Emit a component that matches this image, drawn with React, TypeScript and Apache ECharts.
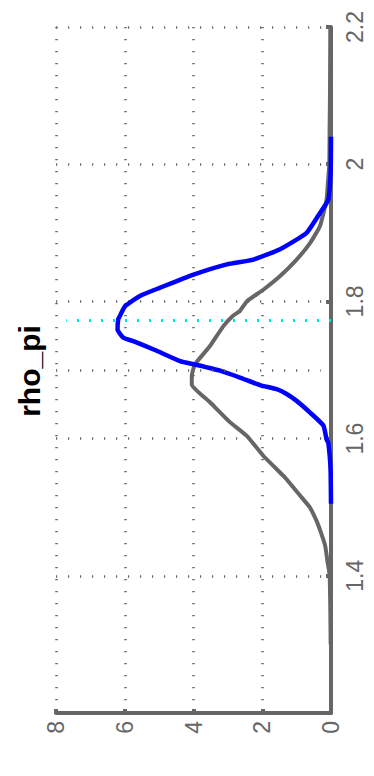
import React, { useEffect, useRef } from "react";
import * as echarts from "echarts";

// Parameter values (vertical axis) and densities (horizontal axis)
const titleText = "rho_pi";

const postParam = [1.505, 1.55, 1.57, 1.594, 1.599, 1.619, 1.638, 1.655, 1.665, 1.672, 1.678, 1.689, 1.699, 1.708, 1.713, 1.728, 1.742, 1.747, 1.759, 1.774, 1.779, 1.793, 1.808, 1.82, 1.839, 1.854, 1.861, 1.876, 1.9, 1.929, 1.948, 1.99, 2.04];
const postDensity = [0.0, 0.01, 0.03, 0.08, 0.13, 0.22, 0.61, 1.0, 1.29, 1.58, 2.07, 2.65, 3.23, 3.96, 4.39, 5.07, 5.75, 6.04, 6.21, 6.19, 6.14, 5.99, 5.56, 4.97, 4.0, 3.03, 2.26, 1.48, 0.71, 0.32, 0.08, 0.01, 0.0];

const priorParam = [1.3, 1.35, 1.401, 1.42, 1.444, 1.464, 1.48, 1.5, 1.517, 1.541, 1.546, 1.575, 1.604, 1.624, 1.653, 1.679, 1.691, 1.708, 1.735, 1.764, 1.779, 1.786, 1.8, 1.817, 1.837, 1.861, 1.885, 1.91, 1.948, 1.973, 2.0, 2.05, 2.1, 2.2];
const priorDensity = [0.01, 0.02, 0.04, 0.1, 0.17, 0.3, 0.42, 0.62, 0.9, 1.3, 1.39, 1.97, 2.45, 2.94, 3.52, 4.05, 4.05, 3.96, 3.52, 3.13, 2.85, 2.65, 2.45, 1.97, 1.48, 1.0, 0.61, 0.32, 0.13, 0.09, 0.05, 0.04, 0.03, 0.02];

const modeParam = 1.772;
const modeDensityRange = [0, 7.7];
const extraGridParam = 1.7;

const densityTicks = { min: 0, max: 8, interval: 2 };
const paramTicks = { min: 1.2, max: 2.2, interval: 0.2 };

export default function App() {
  const ref = useRef<HTMLDivElement>(null);
  useEffect(() => {
    if (!ref.current) return;
    const chart = echarts.init(ref.current, null, { renderer: "svg" });
    const axisColor = "#666666";
    const gridStyle = { color: "#666666", width: 2.5, type: [1.2, 10.8] as number[] };
    const font = "'Liberation Sans', Arial, Helvetica, sans-serif";
    chart.setOption({
      animation: false,
      backgroundColor: "#ffffff",
      grid: { left: 56, right: 43, top: 27, bottom: 63, containLabel: false },
      xAxis: {
        type: "value",
        min: densityTicks.min,
        max: densityTicks.max,
        interval: densityTicks.interval,
        inverse: true,
        position: "bottom",
        axisLine: { show: true, lineStyle: { color: axisColor, width: 4 } },
        axisTick: { show: true, inside: true, length: 4, lineStyle: { color: axisColor, width: 4 } },
        axisLabel: { rotate: 90, margin: 8, color: axisColor, fontSize: 23, fontFamily: font },
        splitLine: { show: true, lineStyle: gridStyle },
      },
      yAxis: {
        type: "value",
        min: paramTicks.min,
        max: paramTicks.max,
        interval: paramTicks.interval,
        position: "right",
        axisLine: { show: true, onZero: false, lineStyle: { color: axisColor, width: 4 } },
        axisTick: { show: true, inside: true, length: 5, lineStyle: { color: axisColor, width: 4 } },
        axisLabel: { rotate: 90, margin: 12, color: axisColor, fontSize: 23, fontFamily: font, showMinLabel: false },
        splitLine: { show: true, lineStyle: gridStyle },
      },
      graphic: [
        {
          type: "text",
          x: 29,
          y: 371,
          rotation: Math.PI / 2,
          style: {
            text: titleText,
            fill: "#000000",
            font: `bold 30px ${font}`,
            align: "center",
            verticalAlign: "middle",
          },
        },
      ],
      series: [
        {
          type: "line",
          name: "grid",
          data: [],
          silent: true,
          markLine: {
            silent: true,
            symbol: "none",
            label: { show: false },
            lineStyle: { color: "#666666", width: 2.5, type: [1.2, 10.8] },
            data: [[{ coord: [densityTicks.max, extraGridParam] }, { coord: [0.3, extraGridParam] }]],
          },
        },
        {
          type: "line",
          name: "mode",
          data: [
            [modeDensityRange[0], modeParam],
            [modeDensityRange[1], modeParam],
          ],
          showSymbol: false,
          lineStyle: { color: "#00e0e8", width: 3, type: [2, 10] },
        },
        {
          type: "line",
          name: "prior",
          data: priorParam.map((p, i) => [priorDensity[i], p]),
          showSymbol: false,
          smooth: 0.15,
          lineStyle: { color: "#666666", width: 4 },
        },
        {
          type: "line",
          name: "posterior",
          data: postParam.map((p, i) => [postDensity[i], p]),
          showSymbol: false,
          smooth: 0.15,
          lineStyle: { color: "#0000ff", width: 4.5 },
        },
      ],
    });
    return () => chart.dispose();
  }, []);
  return (
    <div
      ref={ref}
      style={{ position: "fixed", left: 0, top: 0, width: 374, height: 776, background: "#fff" }}
    />
  );
}
